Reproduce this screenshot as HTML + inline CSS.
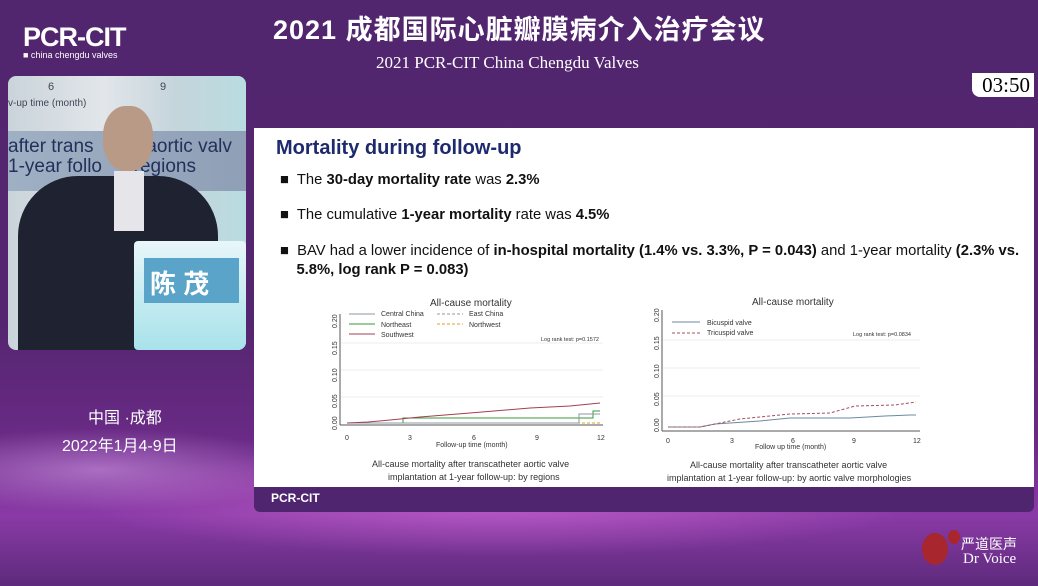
<!DOCTYPE html>
<html><head><meta charset="utf-8"><style>
body{margin:0;width:1038px;height:586px;overflow:hidden;position:relative;font-family:"Liberation Sans","Noto Sans CJK SC",sans-serif;
background:linear-gradient(180deg,#52256f 0%,#54266f 55%,#6a2a86 75%,#8a3aa6 88%,#5d2a7c 100%);}
.abs{position:absolute}
</style></head><body>
<div class="abs" style="left:0;top:380px;width:1038px;height:206px;background:radial-gradient(ellipse 600px 80px at 500px 120px,rgba(230,120,230,.55),rgba(0,0,0,0) 70%),radial-gradient(ellipse 300px 60px at 100px 90px,rgba(220,170,240,.5),rgba(0,0,0,0) 70%);"></div>
<div class="abs" style="left:273px;top:8px;font-size:27px;color:#fff;letter-spacing:1px;font-weight:bold">2021 成都国际心脏瓣膜病介入治疗会议</div>
<div class="abs" style="left:376px;top:53px;font-size:17px;color:#fff;font-family:'Liberation Serif',serif">2021 PCR-CIT China Chengdu Valves</div>
<div class="abs" style="left:23px;top:22px;font-size:27px;color:#fff;font-weight:bold;letter-spacing:-1px">PCR-CIT</div>
<div class="abs" style="left:23px;top:50px;font-size:9px;color:#fff">■ china chengdu valves</div>
<div class="abs" style="left:972px;top:73px;width:62px;height:24px;background:#fff;border-radius:0 0 0 8px;font-family:'Liberation Serif',serif;font-size:21px;color:#000;text-align:right;padding-right:4px;box-sizing:border-box;line-height:24px">03:50</div>
<!-- video -->
<div class="abs" style="left:8px;top:76px;width:238px;height:274px;border-radius:8px;overflow:hidden;background:linear-gradient(90deg,#c9d4da,#e2e6ea 40%,#c5d5dc 70%,#b8dce0)">
 <div class="abs" style="left:0;top:55px;width:238px;height:60px;background:linear-gradient(90deg,#9fb0c4,#8f9fb6)"></div>
 <div class="abs" style="left:0;top:60px;font-size:19px;color:#24305a;white-space:nowrap">after trans&nbsp;&nbsp;&nbsp;&nbsp;&nbsp;&nbsp;&nbsp;&nbsp;&nbsp;&nbsp;aortic valv</div>
 <div class="abs" style="left:0;top:80px;font-size:19px;color:#24305a;white-space:nowrap">1-year follo&nbsp;&nbsp;&nbsp;&nbsp;&nbsp;&nbsp;regions</div>
 <div class="abs" style="left:0;top:22px;font-size:10px;color:#445">v-up time (month)</div>
 <div class="abs" style="left:40px;top:5px;font-size:11px;color:#445">6</div><div class="abs" style="left:152px;top:5px;font-size:11px;color:#445">9</div>
 <div class="abs" style="left:95px;top:30px;width:50px;height:65px;border-radius:45%;background:#b89a86"></div>
 <div class="abs" style="left:10px;top:100px;width:200px;height:180px;border-radius:60px 60px 0 0;background:#1f2230"></div>
 <div class="abs" style="left:106px;top:95px;width:30px;height:60px;background:#e5e5ea"></div>
 <div class="abs" style="left:126px;top:165px;width:112px;height:109px;background:linear-gradient(#e8f6fa,#a8e2ea);border-radius:4px"></div>
 <div class="abs" style="left:136px;top:182px;width:95px;height:45px;background:#5aa3c9"></div>
 <div class="abs" style="left:142px;top:188px;font-size:26px;font-weight:bold;color:#fff">陈 茂</div>
</div>
<div class="abs" style="left:88px;top:404px;font-size:16px;color:#fff">中国 ·成都</div>
<div class="abs" style="left:62px;top:432px;font-size:16px;color:#fff">2022年1月4-9日</div>
<!-- slide -->
<div class="abs" style="left:254px;top:128px;width:780px;height:360px;background:#fff"></div>
<div class="abs" style="left:254px;top:487px;width:780px;height:25px;background:#4f2570;border-radius:0 0 6px 6px"></div>
<div class="abs" style="left:271px;top:491px;font-size:12px;font-weight:bold;color:#fff">PCR-CIT</div>
<div class="abs" style="left:276px;top:137px;font-size:20px;font-weight:bold;color:#1e2a6e">Mortality during follow-up</div>
<div class="abs" style="left:280px;top:172px;font-size:14.8px;color:#111">■&nbsp; The <b>30-day mortality rate</b> was <b>2.3%</b></div>
<div class="abs" style="left:280px;top:207px;font-size:14.8px;color:#111">■&nbsp; The cumulative <b>1-year mortality</b> rate was <b>4.5%</b></div>
<div class="abs" style="left:280px;top:242px;font-size:14.8px;color:#111;width:750px;line-height:19px;white-space:nowrap">■&nbsp; BAV had a lower incidence of <b>in-hospital mortality (1.4% vs. 3.3%, P = 0.043)</b> and 1-year mortality <b>(2.3% vs.<br>&nbsp;&nbsp;&nbsp;&nbsp;5.8%, log rank P = 0.083)</b></div>
<svg class="abs" style="left:0;top:0" width="1038" height="586" font-family="Liberation Sans,sans-serif">
<g font-size="7" fill="#333">
<text x="430" y="306" font-size="10">All-cause mortality</text>
<line x1="340" y1="314" x2="340" y2="425" stroke="#555"/><line x1="340" y1="425" x2="603" y2="425" stroke="#555"/>
<g stroke="#eee"><line x1="341" y1="343" x2="603" y2="343"/><line x1="341" y1="370" x2="603" y2="370"/><line x1="341" y1="397" x2="603" y2="397"/></g>
<g transform="rotate(-90)"><text x="-328" y="337">0.20</text><text x="-355" y="337">0.15</text><text x="-382" y="337">0.10</text><text x="-408" y="337">0.05</text><text x="-430" y="337">0.00</text></g>
<text x="345" y="440">0</text><text x="408" y="440">3</text><text x="472" y="440">6</text><text x="535" y="440">9</text><text x="597" y="440">12</text>
<text x="436" y="447">Follow-up time (month)</text>
<text x="541" y="341" font-size="5.5">Log rank test: p=0.1572</text>
<line x1="349" y1="314" x2="375" y2="314" stroke="#8a9aa0"/><text x="381" y="316">Central China</text>
<line x1="349" y1="324" x2="375" y2="324" stroke="#3a9a3a"/><text x="381" y="327">Northeast</text>
<line x1="349" y1="334" x2="375" y2="334" stroke="#a04050"/><text x="381" y="337">Southwest</text>
<line x1="437" y1="314" x2="463" y2="314" stroke="#999" stroke-dasharray="3,2"/><text x="469" y="316">East China</text>
<line x1="437" y1="324" x2="463" y2="324" stroke="#e0a020" stroke-dasharray="3,2"/><text x="469" y="327">Northwest</text>
<polyline fill="none" stroke="#e0a020" stroke-dasharray="3,2" points="347,423 600,423"/>
<polyline fill="none" stroke="#3a9a3a" points="347,423 403,423 403,418 593,418 593,411 600,411"/>
<polyline fill="none" stroke="#8a9aa0" points="347,423 579,423 579,414 600,414"/>
<polyline fill="none" stroke="#a04050" points="347,423 368,422 390,420 420,417 470,413 530,408 570,406 600,403"/>
<text x="372" y="467" font-size="9">All-cause mortality after transcatheter aortic valve</text>
<text x="388" y="480" font-size="9">implantation at 1-year follow-up: by regions</text>
</g>
<g font-size="7" fill="#333">
<text x="752" y="305" font-size="10">All-cause mortality</text>
<line x1="662" y1="310" x2="662" y2="431" stroke="#555"/><line x1="662" y1="431" x2="920" y2="431" stroke="#555"/>
<g stroke="#eee"><line x1="663" y1="340" x2="920" y2="340"/><line x1="663" y1="368" x2="920" y2="368"/><line x1="663" y1="396" x2="920" y2="396"/></g>
<g transform="rotate(-90)"><text x="-322" y="659">0.20</text><text x="-350" y="659">0.15</text><text x="-378" y="659">0.10</text><text x="-406" y="659">0.05</text><text x="-432" y="659">0.00</text></g>
<text x="666" y="443">0</text><text x="730" y="443">3</text><text x="791" y="443">6</text><text x="852" y="443">9</text><text x="913" y="443">12</text>
<text x="755" y="449">Follow up time (month)</text>
<text x="853" y="336" font-size="5.5">Log rank test: p=0.0834</text>
<line x1="672" y1="322" x2="700" y2="322" stroke="#6a8aa0"/><text x="707" y="325">Bicuspid valve</text>
<line x1="672" y1="333" x2="700" y2="333" stroke="#a05060" stroke-dasharray="3,2"/><text x="707" y="335">Tricuspid valve</text>
<polyline fill="none" stroke="#6a8aa0" points="668,427 700,427 715,424 760,421 790,418 850,418 885,416 910,415 916,415"/>
<polyline fill="none" stroke="#a05060" stroke-dasharray="3,2" points="668,427 700,427 720,423 740,419 790,414 830,413 855,406 895,405 916,402"/>
<text x="690" y="468" font-size="9">All-cause mortality after transcatheter aortic valve</text>
<text x="667" y="481" font-size="9">implantation at 1-year follow-up: by aortic valve morphologies</text>
</g>
</svg>
<div class="abs" style="left:922px;top:533px;width:26px;height:32px;border-radius:50%;background:#a8262e"></div>
<div class="abs" style="left:948px;top:530px;width:12px;height:14px;border-radius:50%;background:#a8262e"></div>
<div class="abs" style="left:961px;top:534px;font-size:14px;color:#fff">严道医声</div>
<div class="abs" style="left:963px;top:551px;font-size:15px;color:#fff;font-family:'Liberation Serif',serif">Dr Voice</div>
</body></html>
